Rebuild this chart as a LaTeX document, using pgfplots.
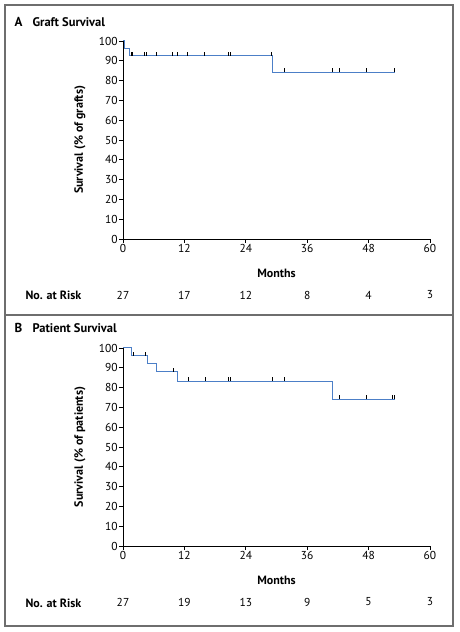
\documentclass[border=0pt]{standalone}
\usepackage{fontspec}
\setmainfont{PT Sans}
\usepackage{pgfplots}
\pgfplotsset{compat=1.18}
\definecolor{kmblue}{RGB}{76,127,199}
\definecolor{framegray}{RGB}{110,110,110}
\pgfdeclareplotmark{ctick}{\pgfpathmoveto{\pgfpoint{0pt}{0pt}}\pgfpathlineto{\pgfpoint{0pt}{4pt}}\pgfusepathqstroke}
\tikzset{risk/.style={font=\fontsize{11.5}{13}\selectfont, yshift=-56pt}}
\pgfplotsset{kmaxis/.style={
  scale only axis, width=307pt, height=198pt,
  xmin=0, xmax=60, ymin=0, ymax=100,
  axis lines=left, axis line style={-, line width=0.8pt, black},
  xtick={0,12,...,60}, ytick={0,10,...,100},
  tick align=outside, major tick length=4pt,
  tick style={line width=0.8pt, black},
  /pgf/number format/assume math mode=true,
  tick label style={font=\fontsize{11.5}{13}\selectfont, inner sep=1.2pt},
  xlabel={Months},
  xlabel style={font=\bfseries\fontsize{12}{14}\selectfont, at={(axis description cs:0.5,0)}, anchor=center, yshift=-34pt},
  ylabel style={font=\bfseries\fontsize{12}{14}\selectfont, at={(axis description cs:-0.14,0.5)}, anchor=center},
  clip=false,
  anchor=south west,
}}
\begin{document}
\begin{tikzpicture}
\path (0pt,0pt) rectangle (459pt,632pt);
\draw[framegray, line width=1.2pt] (5pt,6pt) rectangle (453pt,627pt);
\draw[framegray, line width=1.2pt] (5pt,317pt) -- (453pt,317pt);
% Panel A
\node[anchor=west, font=\bfseries\fontsize{13}{15}\selectfont] at (11pt,610pt) {A};
\node[anchor=west, font=\bfseries\fontsize{12.5}{15}\selectfont] at (29pt,610pt) {Graft Survival};
\node[anchor=west, font=\bfseries\fontsize{12}{14}\selectfont] at (22pt,337pt) {No. at Risk};
\begin{axis}[kmaxis, at={(123pt,393pt)}, ylabel={Survival (\% of grafts)}]
\addplot[const plot, kmblue, line width=1pt] coordinates {
(0,100) (0.3,96.3) (1.2,92.6) (29.3,84.2) (53.1,84.2)};
\addplot[only marks, mark=ctick, black, mark options={black, line width=0.7pt}] coordinates {
(1.6,92.6)(1.9,92.6)(4.1,92.6)(4.6,92.6)(6.6,92.6)(9.7,92.6)(10.7,92.6)(12.6,92.6)(15.9,92.6)(20.5,92.6)(21.0,92.6)(29.0,92.6)(31.6,84.2)(41.0,84.2)(42.2,84.2)(47.5,84.2)(53.1,84.2)};
\node[risk] at (axis cs:0,0) {27};
\node[risk] at (axis cs:12,0) {17};
\node[risk] at (axis cs:24,0) {12};
\node[risk] at (axis cs:36,0) {8};
\node[risk] at (axis cs:48,0) {4};
\node[risk] at (axis cs:60,0) {3};
\end{axis}
% Panel B
\node[anchor=west, font=\bfseries\fontsize{13}{15}\selectfont] at (11pt,304pt) {B};
\node[anchor=west, font=\bfseries\fontsize{12.5}{15}\selectfont] at (29pt,304pt) {Patient Survival};
\node[anchor=west, font=\bfseries\fontsize{12}{14}\selectfont] at (22pt,29pt) {No. at Risk};
\begin{axis}[kmaxis, at={(123pt,86pt)}, ylabel={Survival (\% of patients)}]
\addplot[const plot, kmblue, line width=1pt] coordinates {
(0,100) (1.6,96.2) (4.7,92.2) (6.6,88.1) (10.7,83.3) (41.0,74.0) (53.1,74.0)};
\addplot[only marks, mark=ctick, black, mark options={black, line width=0.7pt}] coordinates {
(2.1,96.2)(4.4,96.2)(9.8,88.1)(12.8,83.3)(16.0,83.3)(20.5,83.3)(21.0,83.3)(29.2,83.3)(31.5,83.3)(42.3,74.0)(47.5,74.0)(52.6,74.0)(53.0,74.0)};
\node[risk] at (axis cs:0,0) {27};
\node[risk] at (axis cs:12,0) {19};
\node[risk] at (axis cs:24,0) {13};
\node[risk] at (axis cs:36,0) {9};
\node[risk] at (axis cs:48,0) {5};
\node[risk] at (axis cs:60,0) {3};
\end{axis}
\end{tikzpicture}
\end{document}
